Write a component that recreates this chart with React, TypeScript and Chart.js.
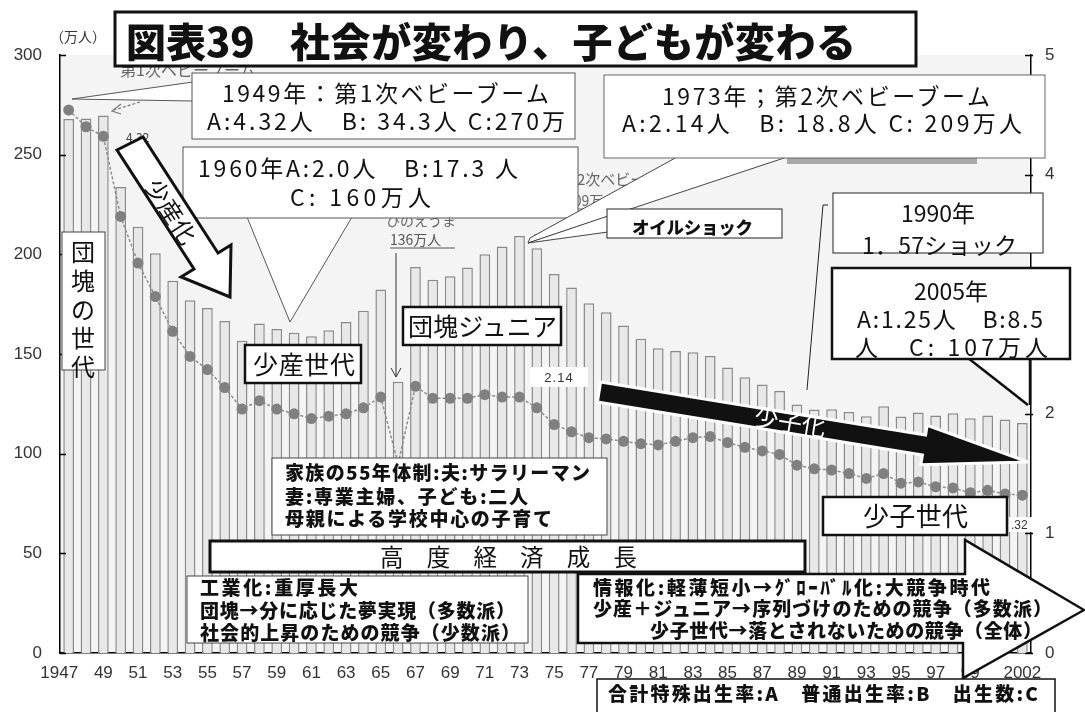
import React, { useEffect, useRef } from "react";
import { Chart, registerables } from "chart.js";

Chart.register(...registerables);

// ---- data ----
const years = [
  "1947", "1948", "1949", "1950", "1951", "1952", "1953", "1954", "1955", "1956",
  "1957", "1958", "1959", "1960", "1961", "1962", "1963", "1964", "1965", "1966",
  "1967", "1968", "1969", "1970", "1971", "1972", "1973", "1974", "1975", "1976",
  "1977", "1978", "1979", "1980", "1981", "1982", "1983", "1984", "1985", "1986",
  "1987", "1988", "1989", "1990", "1991", "1992", "1993", "1994", "1995", "1996",
  "1997", "1998", "1999", "2000", "2001", "2002",
];

const xTickLabels = [
  "1947    ", "", "49", "", "51", "", "53", "", "55", "",
  "57", "", "59", "", "61", "", "63", "", "65", "",
  "67", "", "69", "", "71", "", "73", "", "75", "",
  "77", "", "79", "", "81", "", "83", "", "85", "",
  "87", "", "89", "", "91", "", "93", "", "95", "",
  "97", "", "99", "", "", "2002",
];

// births (万人)
const births = [
  267.9, 268.2, 269.7, 233.8, 213.8, 200.5, 186.8, 177.0, 173.1, 166.5,
  156.7, 165.3, 162.6, 160.6, 158.9, 161.9, 166.0, 171.7, 182.4, 136.1,
  193.6, 187.2, 189.0, 193.4, 200.1, 203.9, 209.2, 203.0, 190.1, 183.3,
  175.5, 170.9, 164.3, 157.7, 152.9, 151.5, 150.9, 149.0, 143.2, 138.3,
  134.7, 131.4, 124.7, 122.2, 122.3, 120.9, 118.8, 123.8, 118.7, 120.7,
  119.2, 120.3, 117.8, 119.1, 117.1, 115.4,
];

// total fertility rate
const tfr = [
  4.54, 4.40, 4.32, 3.65, 3.26, 2.98, 2.69, 2.48, 2.37, 2.22,
  2.04, 2.11, 2.04, 2.00, 1.96, 1.98, 2.00, 2.05, 2.14, 1.58,
  2.23, 2.13, 2.13, 2.13, 2.16, 2.14, 2.14, 2.05, 1.91, 1.85,
  1.80, 1.79, 1.77, 1.75, 1.74, 1.77, 1.80, 1.81, 1.76, 1.72,
  1.69, 1.66, 1.57, 1.54, 1.53, 1.50, 1.46, 1.50, 1.42, 1.43,
  1.39, 1.38, 1.34, 1.36, 1.33, 1.32,
];

const leftTicks = [0, 50, 100, 150, 200, 250, 300];
const rightTicks = [0, 1, 2, 3, 4, 5];

const JP = "'Noto Sans CJK JP', 'Noto Sans CJK SC', sans-serif";
const SANS = "'Liberation Sans', Arial, sans-serif";

const bgPlugin = {
  id: "plotBg",
  beforeDraw(chart: any) {
    const { ctx, chartArea: a } = chart;
    ctx.save();
    ctx.fillStyle = "#f4f4f4";
    ctx.fillRect(a.left, a.top, a.right - a.left, a.bottom - a.top);
    ctx.restore();
  },
  afterDraw(chart: any) {
    const { ctx, chartArea: a, scales } = chart;
    ctx.save();
    ctx.strokeStyle = "#000";
    ctx.lineWidth = 1.5;
    leftTicks.forEach((v) => {
      const y = Math.round(scales.y.getPixelForValue(v)) + 0.5;
      ctx.beginPath();
      ctx.moveTo(a.left, y);
      ctx.lineTo(a.left + 6, y);
      ctx.stroke();
    });
    rightTicks.forEach((v) => {
      const y = Math.round(scales.y1.getPixelForValue(v)) + 0.5;
      ctx.beginPath();
      ctx.moveTo(a.right - 6, y);
      ctx.lineTo(a.right + 2, y);
      ctx.stroke();
    });
    ctx.restore();
  },
};

type TP = {
  x: number;
  y: number;
  s: number;
  w?: number | string;
  len?: number;
  anchor?: string;
  fill?: string;
  children: any;
  rot?: number;
  ls?: number;
};
function T({ x, y, s, w = 400, len, anchor, fill = "#111", children, rot, ls }: TP) {
  const p: any = {
    x,
    y,
    fontSize: s,
    fontWeight: w,
    fontFamily: JP,
    fill,
  };
  if (len) p.textLength = len;
  if (anchor) p.textAnchor = anchor;
  if (rot !== undefined) p.transform = `rotate(${rot} ${x} ${y})`;
  if (ls !== undefined) p.letterSpacing = ls;
  return <text {...p}>{children}</text>;
}

function R({ x, y, w, h, sw = 1, stroke = "#444", fill = "#fff" }: any) {
  return <rect x={x} y={y} width={w} height={h} fill={fill} stroke={stroke} strokeWidth={sw} />;
}

function Overlay() {
  const boxFont = 23;
  return (
    <svg
      width={1085}
      height={712}
      style={{ position: "absolute", left: 0, top: 0 }}
      xmlns="http://www.w3.org/2000/svg"
    >
      {/* (万人) */}
      <T x={50} y={42} s={14} fill="#333">（万人）</T>

      {/* faint original chart labels */}
      <T x={120} y={76} s={16} fill="#666">第1次ベビーブーム</T>
      <T x={126} y={142} s={12} fill="#444">4.32</T>
      <path d="M140 102 L114 110" stroke="#777" strokeWidth={1.2} strokeDasharray="3 2" fill="none" />
      <path d="M121 104 L112 111 L121 114" stroke="#777" strokeWidth={1.2} fill="none" />
      <T x={386} y={226} s={14} fill="#666">ひのえうま</T>
      <T x={390} y={245} s={14} fill="#555">136万人</T>
      <line x1={390} y1={248} x2={455} y2={248} stroke="#555" strokeWidth={1} />
      <line x1={396} y1={253} x2={396} y2={377} stroke="#333" strokeWidth={1} />
      <path d="M391 368 L396 377 L401 368" stroke="#333" strokeWidth={1} fill="none" />
      <T x={562} y={185} s={15} fill="#666">第2次ベビーブーム</T>
      <T x={566} y={206} s={14} fill="#666">209万人</T>
      <line x1={566} y1={209} x2={625} y2={209} stroke="#666" strokeWidth={1} />

      {/* 1949 callout */}
      <polygon points="193,82 72,99 193,101" fill="#fff" stroke="#555" strokeWidth={1} />
      <R x={192} y={73} w={383} h={66} stroke="#555" />
      <T x={222} y={102} s={boxFont} len={327}>1949年：第1次ベビーブーム</T>
      <T x={207} y={130} s={boxFont} len={358}>A:4.32人　B: 34.3人 C:270万</T>

      {/* 1960 callout */}
      <polygon points="247,217 352,217 290,322" fill="#fff" stroke="#555" strokeWidth={1} />
      <R x={183} y={147} w={395} h={71} stroke="#555" />
      <T x={198} y={177} s={boxFont} len={320}>1960年A:2.0人　B:17.3 人</T>
      <T x={290} y={206} s={boxFont} len={141}>C: 160万人</T>

      {/* 1973 callout */}
      <path d="M565 224 L532 236" stroke="#777" strokeWidth={1.2} strokeDasharray="3 2" fill="none" />
      <polygon points="677,157 787,157 528,243 530,238" fill="#fff" stroke="#444" strokeWidth={1} />
      <rect x={787} y={157} width={190} height={7} fill="#a8a8a8" />
      <R x={604} y={75} w={441} h={83} stroke="#666" />
      <T x={662} y={105} s={boxFont} len={328}>1973年；第2次ベビーブーム</T>
      <T x={622} y={132} s={boxFont} len={400}>A:2.14人　B: 18.8人 C: 209万人</T>

      {/* oil shock */}
      <polygon points="608,216 608,232 528,243" fill="#fff" stroke="#444" strokeWidth={1} />
      <R x={607} y={209} w={175} h={29} stroke="#222" />
      <T x={632} y={234} s={17.5} w={900} len={121}>オイルショック</T>

      {/* 1990 */}
      <path d="M828 205 L823 205 L807 390" stroke="#222" strokeWidth={1} fill="none" />
      <R x={833} y={193} w={210} h={60} stroke="#222" />
      <T x={938} y={222} s={boxFont} anchor="middle">1990年</T>
      <T x={862} y={254} s={boxFont} len={155}>1．57ショック</T>

      {/* 2005 */}
      <polygon points="968,358 1030,358 1029,405" fill="#fff" stroke="none" />
      <line x1={968} y1={358} x2={1028} y2={405} stroke="#111" strokeWidth={2.5} />
      <line x1={1030} y1={358} x2={1030} y2={405} stroke="#111" strokeWidth={2.5} />
      <R x={832} y={268} w={238} h={91} sw={2.5} stroke="#111" />
      <T x={951} y={300} s={boxFont} anchor="middle">2005年</T>
      <T x={857} y={328} s={boxFont} len={186}>A:1.25人　B:8.5</T>
      <T x={855} y={356} s={boxFont} len={193}>人　C: 107万人</T>

      {/* 団塊の世代 */}
      <R x={62} y={232} w={43} h={138} stroke="#444" />
      <T x={83} y={261} s={24} anchor="middle">団</T>
      <T x={83} y={290} s={24} anchor="middle">塊</T>
      <T x={83} y={319} s={24} anchor="middle">の</T>
      <T x={83} y={347} s={24} anchor="middle">世</T>
      <T x={83} y={376} s={24} anchor="middle">代</T>

      {/* 少産化 arrow */}
      <polygon
        points="117,150 143,137 218,253 231,245 230,297 181,277 194,269"
        fill="#fff"
        stroke="#111"
        strokeWidth={3}
        strokeLinejoin="miter"
      />
      <T x={170} y={212} s={24} anchor="middle" rot={57}>
        <tspan dy={8}>少産化</tspan>
      </T>

      {/* 少産世代 / 団塊ジュニア */}
      <R x={245} y={345} w={116} h={38} sw={2.5} stroke="#111" />
      <T x={253} y={374} s={25} len={102}>少産世代</T>
      <R x={403} y={307} w={158} h={38} sw={2.5} stroke="#111" />
      <T x={408} y={336} s={25} len={149}>団塊ジュニア</T>

      {/* small value labels */}
      <rect x={530} y={367} width={58} height={20} fill="#fff" />
      <text x={559} y={382} fontSize={13} fontFamily={SANS} fill="#333" textAnchor="middle" letterSpacing={1}>2.14</text>
      <rect x={1009} y={517} width={24} height={15} fill="#fff" />
      <text x={1011} y={529} fontSize={12} fontFamily={SANS} fill="#333">.32</text>

      {/* 少子化 arrow */}
      <polygon
        points="600.6,382.1 925.6,435 927.2,425.3 1028,462 920.8,464.7 922.4,454.9 597.4,401.9"
        fill="#111"
        stroke="#fff"
        strokeWidth={3}
      />
      <T x={790} y={423} s={24} anchor="middle" fill="#fff" rot={9.3}>
        <tspan dy={8}>少子化</tspan>
      </T>

      {/* 家族の55年体制 */}
      <R x={272} y={458} w={335} h={77} stroke="#444" />
      <T x={285} y={480} s={19} w={900} len={305}>家族の55年体制:夫:サラリーマン</T>
      <T x={285} y={504} s={19} w={900} len={243}>妻:専業主婦、子ども:二人</T>
      <T x={285} y={526} s={19} w={900} len={267}>母親による学校中心の子育て</T>

      {/* 高度経済成長 */}
      <R x={210} y={541} w={595} h={31} sw={3} stroke="#111" />
      <T x={380} y={566} s={23.5} len={257}>高　度　経　済　成　長</T>

      {/* 工業化 */}
      <R x={187} y={576} w={341} h={67} stroke="#444" />
      <T x={200} y={595} s={19} w={900} len={158}>工業化:重厚長大</T>
      <T x={200} y={618} s={19} w={900} len={315}>団塊→分に応じた夢実現（多数派）</T>
      <T x={200} y={640} s={19} w={900} len={320}>社会的上昇のための競争（少数派）</T>

      {/* 情報化 big arrow */}
      <polygon
        points="578,574 965,574 965,540 1084,610 963,678 963,643 578,643"
        fill="#fff"
        stroke="#111"
        strokeWidth={2.5}
        strokeLinejoin="miter"
      />
      <T x={593} y={595} s={19} w={900} len={397}>情報化:軽薄短小→ｸﾞﾛｰﾊﾞﾙ化:大競争時代</T>
      <T x={593} y={616} s={19} w={900} len={459}>少産＋ジュニア→序列づけのための競争（多数派）</T>
      <T x={650} y={638} s={19} w={900} len={392}>少子世代→落とされないための競争（全体）</T>

      {/* 少子世代 */}
      <R x={823} y={497} w={184} h={38} sw={2.5} stroke="#111" />
      <T x={863} y={526} s={26} len={105}>少子世代</T>

      {/* legend */}
      <R x={597} y={679} w={458} h={40} sw={1.5} stroke="#111" />
      <T x={608} y={701} s={19} w={900} len={430}>合計特殊出生率:A　普通出生率:B　出生数:C</T>

      {/* title */}
      <R x={115} y={12} w={801} h={54} sw={3} stroke="#111" />
      <T x={126} y={57} s={40} w={900}>図表39</T>
      <T x={290} y={57} s={40} w={900} len={566}>社会が変わり、子どもが変わる</T>
    </svg>
  );
}

export default function App() {
  const ref = useRef<HTMLCanvasElement | null>(null);

  useEffect(() => {
    if (!ref.current) return;
    const tickFont = { family: SANS, size: 17 };
    const chart = new Chart(ref.current, {
      type: "bar",
      data: {
        labels: years,
        datasets: [
          {
            type: "line",
            label: "合計特殊出生率",
            data: tfr,
            yAxisID: "y1",
            order: 0,
            borderColor: "#8c8c8c",
            borderWidth: 1.5,
            borderDash: [3, 2],
            pointRadius: 5.5,
            pointBackgroundColor: "#808080",
            pointBorderWidth: 0,
            tension: 0,
          } as any,
          {
            type: "bar",
            label: "出生数",
            data: births,
            yAxisID: "y",
            order: 1,
            backgroundColor: "#e8e8e8",
            borderColor: "#8a8a8a",
            borderWidth: 1.5,
            barPercentage: 0.62,
            categoryPercentage: 1,
          } as any,
        ],
      },
      options: {
        responsive: false,
        animation: false,
        devicePixelRatio: 1,
        layout: { padding: { top: 55, left: 0, right: 0, bottom: 0 } },
        plugins: {
          legend: { display: false },
          tooltip: { enabled: false },
          title: { display: false },
        },
        scales: {
          x: {
            offset: true,
            grid: { display: false, drawTicks: false },
            border: { display: true, color: "#000", width: 1.5 },
            ticks: {
              autoSkip: false,
              maxRotation: 0,
              minRotation: 0,
              padding: 10,
              color: "#333",
              font: { family: SANS, size: 17 },
              callback: (_v: any, i: number) => xTickLabels[i],
            },
            afterFit: (s: any) => {
              s.height = 59;
            },
          },
          y: {
            position: "left",
            min: 0,
            max: 300,
            grid: { display: false, drawTicks: false },
            border: { display: true, color: "#000", width: 1.5 },
            ticks: { stepSize: 50, padding: 18, color: "#333", font: tickFont },
            afterFit: (s: any) => {
              s.width = 60;
            },
          },
          y1: {
            position: "right",
            min: 0,
            max: 5,
            grid: { display: false, drawTicks: false },
            border: { display: true, color: "#000", width: 1.5 },
            ticks: { stepSize: 1, padding: 14, color: "#333", font: tickFont },
            afterFit: (s: any) => {
              s.width = 54;
            },
          },
        },
      } as any,
      plugins: [bgPlugin],
    });
    return () => chart.destroy();
  }, []);

  return (
    <div
      style={{
        position: "absolute",
        left: 0,
        top: 0,
        width: 1085,
        height: 712,
        background: "#fff",
        overflow: "hidden",
      }}
    >
      <canvas ref={ref} width={1085} height={712} style={{ position: "absolute", left: 0, top: 0, width: 1085, height: 712 }} />
      <Overlay />
    </div>
  );
}
